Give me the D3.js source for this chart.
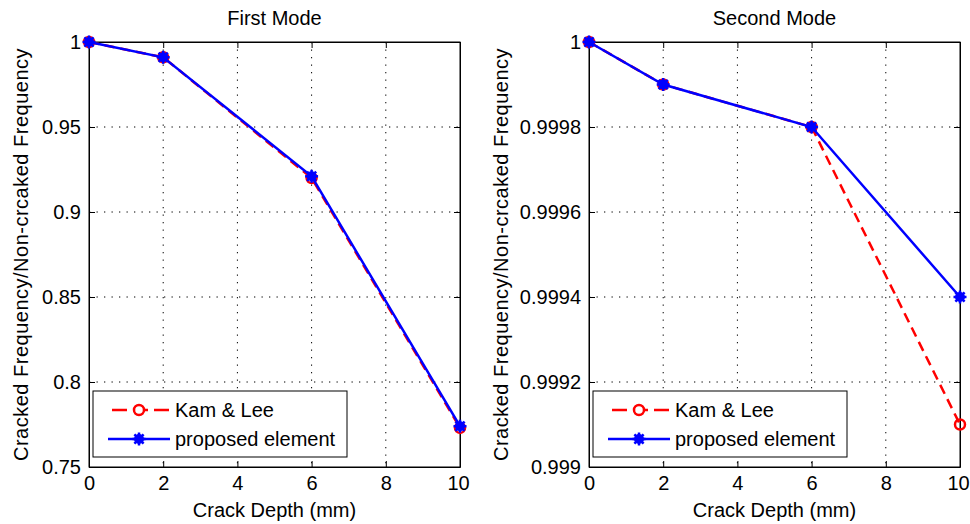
<!DOCTYPE html>
<html>
<head>
<meta charset="utf-8">
<script src="https://cdn.jsdelivr.net/npm/d3@7"></script>
<style>
  body { margin: 0; background: #fff; }
  svg { display: block; font-family: "Liberation Sans", Arial, sans-serif; }
  .grid line { stroke: #000; stroke-dasharray: 1.3, 6.2; stroke-width: 1; }
</style>
</head>
<body>
<div id="chart"></div>
<script>
const depth = [0, 2, 6, 10];
const xTicks = [0, 2, 4, 6, 8, 10];

const firstKam = [1, 0.991, 0.920, 0.773];
const firstProposed = [1, 0.991, 0.921, 0.774];
const firstTicks = [0.75, 0.8, 0.85, 0.9, 0.95, 1];

const secondKam = [1, 0.9999, 0.9998, 0.9991];
const secondProposed = [1, 0.9999, 0.9998, 0.9994];
const secondTicks = [0.999, 0.9992, 0.9994, 0.9996, 0.9998, 1];

const seriesNames = ["Kam & Lee", "proposed element"];

const W = 970, H = 524;
const FS = 20;
const FONT = "Liberation Sans, Arial, sans-serif";
const svg = d3.select("#chart").append("svg")
  .attr("width", W).attr("height", H);

const panels = [
  { title: "First Mode", left: 89, ylabelX: 28, kam: firstKam, prop: firstProposed, ticks: firstTicks,
    domain: [0.75, 1], fmt: d => d === 1 ? "1" : String(d) },
  { title: "Second Mode", left: 589, ylabelX: 508, kam: secondKam, prop: secondProposed, ticks: secondTicks,
    domain: [0.999, 1], fmt: d => d === 1 ? "1" : d3.format(".4~f")(d) }
];

const pw = 371, plotTop = 42, ph = 425;

function star(g, cx, cy) {
  const r = 6.5;
  g.append("circle").attr("cx", cx).attr("cy", cy).attr("r", 5).attr("fill", "#0000ff");
  for (let i = 0; i < 4; i++) {
    const a = i * Math.PI / 4;
    g.append("line")
      .attr("x1", cx - r * Math.cos(a)).attr("y1", cy - r * Math.sin(a))
      .attr("x2", cx + r * Math.cos(a)).attr("y2", cy + r * Math.sin(a))
      .attr("stroke", "#0000ff").attr("stroke-width", 2.5);
  }
}

panels.forEach(p => {
  const x = d3.scaleLinear().domain([0, 10]).range([0, pw]);
  const y = d3.scaleLinear().domain(p.domain).range([ph, 0]);
  const g = svg.append("g").attr("transform", `translate(${p.left},${plotTop})`);

  // grid
  const grid = g.append("g").attr("class", "grid");
  grid.selectAll(".vx").data(xTicks.slice(1, -1)).enter().append("line")
    .attr("x1", d => x(d)).attr("x2", d => x(d)).attr("y1", 0).attr("y2", ph);
  grid.selectAll(".hy").data(p.ticks.slice(1, -1)).enter().append("line")
    .attr("y1", d => y(d)).attr("y2", d => y(d)).attr("x1", 0).attr("x2", pw);

  // axes with inward ticks on all sides
  g.append("g").attr("transform", `translate(0,${ph})`)
    .call(d3.axisBottom(x).tickValues(xTicks).tickSizeInner(-6).tickSizeOuter(0).tickPadding(9))
    .call(a => a.selectAll("text").attr("font-size", FS).attr("font-family", FONT).attr("fill", "#000")
      .attr("dx", d => d === 10 ? -2 : 0));
  g.append("g")
    .call(d3.axisTop(x).tickValues(xTicks).tickSizeInner(-6).tickSizeOuter(0).tickFormat(""));
  g.append("g")
    .call(d3.axisLeft(y).tickValues(p.ticks).tickSizeInner(-6).tickSizeOuter(0).tickPadding(8).tickFormat(p.fmt))
    .call(a => a.selectAll("text").attr("font-size", FS).attr("font-family", FONT).attr("fill", "#000"));
  g.append("g").attr("transform", `translate(${pw},0)`)
    .call(d3.axisRight(y).tickValues(p.ticks).tickSizeInner(-6).tickSizeOuter(0).tickFormat(""));
  g.selectAll(".domain").attr("stroke", "#000");
  g.selectAll(".tick line").attr("stroke", "#000");
  g.append("rect").attr("width", pw).attr("height", ph)
    .attr("fill", "none").attr("stroke", "#000").attr("stroke-width", 1);

  const line = d3.line().x(d => x(d[0])).y(d => y(d[1]));
  const kamPts = depth.map((d, i) => [d, p.kam[i]]);
  const propPts = depth.map((d, i) => [d, p.prop[i]]);

  g.append("path").datum(kamPts).attr("d", line)
    .attr("fill", "none").attr("stroke", "#ff0000").attr("stroke-width", 2.5)
    .attr("stroke-dasharray", "10,6");
  g.selectAll(".kam").data(kamPts).enter().append("circle")
    .attr("cx", d => x(d[0])).attr("cy", d => y(d[1])).attr("r", 5)
    .attr("fill", "none").attr("stroke", "#ff0000").attr("stroke-width", 2.5);

  g.append("path").datum(propPts).attr("d", line)
    .attr("fill", "none").attr("stroke", "#0000ff").attr("stroke-width", 2.5);
  propPts.forEach(d => star(g, x(d[0]), y(d[1])));

  // title
  svg.append("text").attr("x", p.left + pw / 2).attr("y", 25)
    .attr("text-anchor", "middle").attr("font-size", FS).text(p.title);
  // x label
  svg.append("text").attr("x", p.left + pw / 2).attr("y", 517)
    .attr("text-anchor", "middle").attr("font-size", FS).text("Crack Depth (mm)");
  // y label
  svg.append("text")
    .attr("transform", `translate(${p.ylabelX},${plotTop + ph / 2}) rotate(-90)`)
    .attr("text-anchor", "middle").attr("font-size", FS).attr("letter-spacing", 0.5)
    .text("Cracked Frequency/Non-crcaked Frequency");

  // legend
  const lg = svg.append("g").attr("transform", `translate(${p.left + 4},391)`);
  lg.append("rect").attr("width", 254).attr("height", 66)
    .attr("fill", "#fff").attr("stroke", "#000");
  lg.append("line").attr("x1", 19).attr("x2", 77).attr("y1", 19).attr("y2", 19)
    .attr("stroke", "#ff0000").attr("stroke-width", 2.5).attr("stroke-dasharray", "15,6");
  lg.append("circle").attr("cx", 46).attr("cy", 19).attr("r", 5)
    .attr("fill", "#fff").attr("stroke", "#ff0000").attr("stroke-width", 2.5);
  lg.append("line").attr("x1", 15).attr("x2", 77).attr("y1", 48).attr("y2", 48)
    .attr("stroke", "#0000ff").attr("stroke-width", 2.5);
  star(lg, 46, 48);
  lg.selectAll(".lt").data(seriesNames).enter().append("text")
    .attr("x", 82).attr("y", (d, i) => 26 + i * 29)
    .attr("font-size", FS).text(d => d);
});
</script>
</body>
</html>
